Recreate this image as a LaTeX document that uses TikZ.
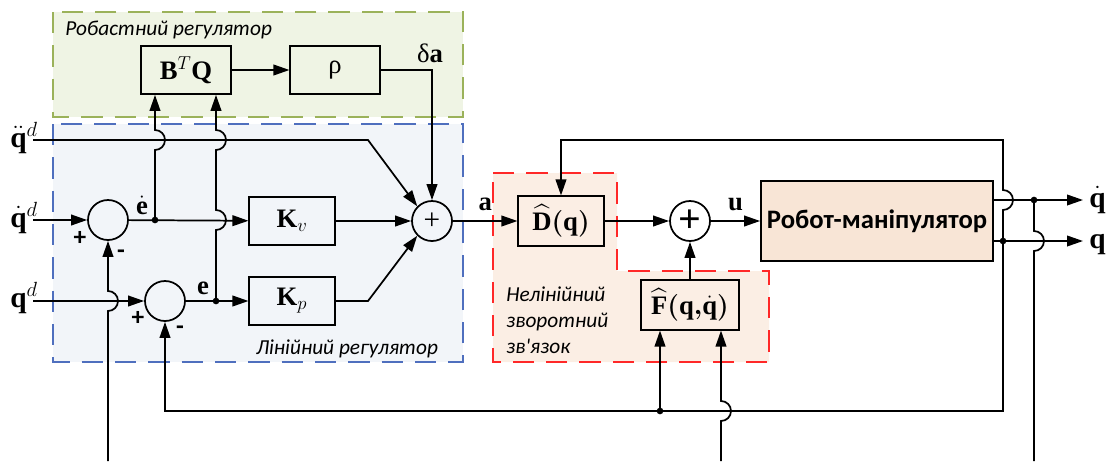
\RequirePackage{fix-cm}
\documentclass[tikz,border=0pt]{standalone}
\usepackage{amsmath,bm}
\usepackage{fontspec}
\setmainfont{Liberation Serif}
\newfontfamily\uafont{Carlito}[Ligatures=TeXOff]
\usetikzlibrary{arrows.meta}

\definecolor{grnfill}{RGB}{239,244,228}
\definecolor{grnline}{RGB}{155,178,90}
\definecolor{blufill}{RGB}{242,245,249}
\definecolor{bluline}{RGB}{79,111,190}
\definecolor{redfill}{RGB}{251,238,228}
\definecolor{redline}{RGB}{255,40,40}
\definecolor{robfill}{RGB}{248,229,214}

\tikzset{
  blk/.style={draw, line width=1.3pt, minimum width=64pt, minimum height=36pt,
    inner sep=0pt, font=\fontsize{20}{24}\selectfont},
  sumc/.style={draw, circle, line width=1.3pt, minimum size=30pt, inner sep=0pt},
  wire/.style={line width=1.3pt},
  sig/.style={wire, -{Triangle[length=12pt,width=8pt]}},
  zone/.style={line width=1.3pt, dash pattern=on 16pt off 9pt},
  jdot/.style={circle, fill, inner sep=0pt, minimum size=5pt},
  mlbl/.style={font=\fontsize{20}{24}\selectfont, inner sep=0pt},
  inlbl/.style={font=\fontsize{22}{26}\selectfont, inner sep=0pt},
  ital/.style={font=\uafont\itshape\fontsize{16}{19.5}\selectfont, inner sep=0pt},
  sgn/.style={font=\uafont\bfseries\fontsize{19}{22}\selectfont, inner sep=0pt},
}

\begin{document}
\begin{tikzpicture}[x=0.75pt, y=-0.75pt]
  \useasboundingbox (0,0) rectangle (1110,461);
  % Regions
  \draw[zone, grnline, fill=grnfill] (53,12) rectangle (463,117);
  \draw[zone, bluline, fill=blufill] (53,124) rectangle (463,362);
  \draw[zone, redline, fill=redfill] (493,173) -- (617,173) -- (617,271)
    -- (769,271) -- (769,362) -- (493,362) -- cycle;
  \node[ital, anchor=base west] (trob) at (65,35) {Робастний регулятор};
  \node[ital, anchor=base] (tlin) at (347,354) {Лінійний регулятор};
  \node[ital, anchor=north west, align=left] (tnl) at (506,287) {Нелінійний\\зворотний\\зв'язок};

  % Robust controller
  \node[blk, minimum width=67pt] (btq) at (186,70) {$\mathbf{B}^{T}\mathbf{Q}$};
  \node[blk, minimum width=67pt] (rho) at (335,70) {ρ};
  \node[mlbl] (lda) at (430,53) {δ$\mathbf{a}$};

  % Linear controller
  \node[sumc] (s1) at (108,220) {};
  \node[sumc] (s3) at (165,301) {};
  \node[blk] (kv) at (292,221) {$\mathbf{K}_{v}$};
  \node[blk] (kp) at (292,301) {$\mathbf{K}_{p}$};
  \node[sumc, font=\fontsize{22}{24}\selectfont] (s2) at (432,221) {+};
  \node[sgn] (p1) at (80,238) {+};
  \node[sgn] (m1) at (121,254) {-};
  \node[sgn] (p3) at (138,318) {+};
  \node[sgn] (m3) at (180,330) {-};

  % Feedback linearisation and plant
  \node[blk, minimum height=37pt] (dq) at (561,221) {$\widehat{\mathbf{D}}\bm{(}\mathbf{q}\bm{)}$};
  \node[sumc, font=\bfseries\fontsize{30}{32}\selectfont] (s4) at (690,221) {+};
  \node[blk, minimum width=73pt, minimum height=37pt] (fq) at (690,305)
    {$\widehat{\mathbf{F}}\bm{(}\mathbf{q}{\bm{,}}\dot{\mathbf{q}}\bm{)}$};
  \node[blk, fill=robfill, minimum width=174pt, minimum height=60pt,
    font=\uafont\bfseries\fontsize{20}{24}\selectfont] (rob) at (877,221) {Робот-маніпулятор};

  % Inputs and outputs
  \coordinate (in1) at (33,140);
  \coordinate (in2) at (33,220);
  \coordinate (in3) at (33,301);
  \node[inlbl, anchor=base east] (lqdd) at (38,147) {$\ddot{\mathbf{q}}^{d}$};
  \node[inlbl, anchor=base east] (lqd) at (38,227) {$\dot{\mathbf{q}}^{d}$};
  \node[inlbl, anchor=base east] (lq) at (38,307) {$\mathbf{q}^{d}$};
  \coordinate (ov) at (1083,200);
  \coordinate (op) at (1083,241);
  \node[inlbl, anchor=base west] (lov) at (1089,207) {$\dot{\mathbf{q}}$};
  \node[inlbl, anchor=base west] (lop) at (1089,248) {$\mathbf{q}$};

  % Forward paths
  \coordinate (de) at (155,220);
  \coordinate (e) at (216,301);
  \draw[sig] (in1) -- (368,140) -- (s2.north west);
  \draw[sig] (in2) -- (s1);
  \draw[sig] (in3) -- (s3);
  \draw[sig] (s1) -- (kv);
  \draw[sig] (s3) -- (kp);
  \node[jdot] (dde) at (de) {};
  \node[jdot] (dee) at (e) {};
  \node[mlbl] (lde) at (142,205) {$\dot{\mathbf{e}}$};
  \node[mlbl] (le) at (203,288) {$\mathbf{e}$};
  \draw[sig] (kv) -- (s2);
  \draw[sig] (kp.east) -- (368,301) -- (s2.south west);
  \draw[sig] (de) -- ++(0,-70) arc[start angle=90, end angle=-90, radius=10] -- (de |- btq.south);
  \draw[sig] (e) -- ++(0,-71) arc[start angle=90, end angle=-90, radius=10]
    -- ++(0,-60) arc[start angle=90, end angle=-90, radius=10] -- (e |- btq.south);
  \draw[sig] (btq) -- (rho);
  \draw[sig] (rho.east) -| (s2.north);
  \draw[sig] (s2) -- (dq) node[mlbl, midway, above=7pt] (la) {$\mathbf{a}$};
  \draw[sig] (dq) -- (s4);
  \draw[sig] (s4) -- (rob) node[mlbl, midway, above=7pt] (lu) {$\mathbf{u}$};
  \draw[sig] (fq) -- (s4);
  \draw[sig] (rob.east |- ov) -- (ov);
  \draw[sig] (rob.east |- op) -- (op);

  % Feedback of q
  \coordinate (jq) at (1003,241);
  \coordinate (jf) at (660,411);
  \draw[sig] (jq) -- ++(0,-31) arc[start angle=90, end angle=-90, radius=10]
    -- (1003,140) -| (dq.north);
  \draw[sig] (jq) -- (1003,411) -| (s3.south);
  \draw[sig] (jf) -- (jf |- fq.south);
  \node[jdot] (djq) at (jq) {};
  \node[jdot] (djf) at (jf) {};

  % Feedback of dq
  \coordinate (jv) at (1034,200);
  \coordinate (bf) at (721,461);
  \coordinate (bs) at (108,461);
  \draw[wire] (jv) -- ++(0,31) arc[start angle=-90, end angle=90, radius=10] -- (1034,461);
  \draw[sig] (bf) -- (721,421) arc[start angle=90, end angle=-90, radius=10] -- (bf |- fq.south);
  \draw[sig] (bs) -- (108,311) arc[start angle=90, end angle=-90, radius=10] -- (s1);
  \node[jdot] (djv) at (jv) {};
\end{tikzpicture}
\end{document}
